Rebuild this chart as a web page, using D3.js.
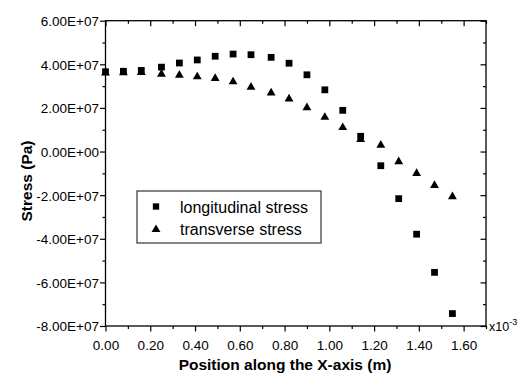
<!DOCTYPE html>
<html>
<head>
<meta charset="utf-8">
<script src="https://cdn.jsdelivr.net/npm/d3@7"></script>
<style>
  html, body { margin: 0; padding: 0; background: #fff; }
  svg { display: block; font-family: "Liberation Sans", Arial, sans-serif; }
</style>
</head>
<body>
<svg id="chart" width="525" height="374"></svg>
<script>
// ---- data (x in 1e-3 m, stress in Pa) ----
const positions = [0.00, 0.08, 0.16, 0.25, 0.33, 0.41, 0.49, 0.57, 0.65, 0.74,
                   0.82, 0.90, 0.98, 1.06, 1.14, 1.23, 1.31, 1.39, 1.47, 1.55];
const longitudinal = [3.66e7, 3.68e7, 3.72e7, 3.87e7, 4.06e7, 4.20e7, 4.37e7, 4.47e7, 4.44e7, 4.32e7,
                      4.05e7, 3.52e7, 2.83e7, 1.89e7, 0.70e7, -0.65e7, -2.16e7, -3.79e7, -5.54e7, -7.43e7];
const transverse = [3.60e7, 3.62e7, 3.63e7, 3.55e7, 3.50e7, 3.43e7, 3.35e7, 3.20e7, 2.95e7, 2.69e7,
                    2.41e7, 2.01e7, 1.57e7, 1.10e7, 0.55e7, 0.29e7, -0.46e7, -1.00e7, -1.55e7, -2.07e7];
const seriesNames = ["longitudinal stress", "transverse stress"];
const xTickValues = [0.0, 0.2, 0.4, 0.6, 0.8, 1.0, 1.2, 1.4, 1.6];
const xTickLabels = ["0.00", "0.20", "0.40", "0.60", "0.80", "1.00", "1.20", "1.40", "1.60"];
const xMinorTicks = [0.1, 0.3, 0.5, 0.7, 0.9, 1.1, 1.3, 1.5, 1.7];
const yTickValues = [6e7, 4e7, 2e7, 0, -2e7, -4e7, -6e7, -8e7];
const yTickLabels = ["6.00E+07", "4.00E+07", "2.00E+07", "0.00E+00", "-2.00E+07", "-4.00E+07", "-6.00E+07", "-8.00E+07"];
const yMinorTicks = [5e7, 3e7, 1e7, -1e7, -3e7, -5e7, -7e7];
const xTitle = "Position along the X-axis (m)";
const yTitle = "Stress (Pa)";

// ---- layout ----
const L = 105.5, R = 486, T = 20.7, B = 326;
const svg = d3.select("#chart");
const x = d3.scaleLinear().domain([0, 1.7]).range([L, R]);
const y = d3.scaleLinear().domain([-8e7, 6e7]).range([B, T]);

const xLab = d3.scaleOrdinal().domain(xTickValues).range(xTickLabels);
const yLab = d3.scaleOrdinal().domain(yTickValues).range(yTickLabels);

function styleAxis(g) {
  g.select(".domain").remove();
  g.selectAll("line").attr("stroke", "#000").attr("stroke-width", 1.2);
  g.selectAll("text").attr("fill", "#000");
}

// bottom major
svg.append("g").attr("transform", `translate(0,${B})`)
  .call(d3.axisBottom(x).tickValues(xTickValues).tickSize(5.5).tickPadding(9).tickFormat(d => xLab(d)))
  .call(styleAxis)
  .selectAll("text").attr("font-size", "13.5px").attr("font-family", "Liberation Sans, Arial, sans-serif");
// bottom minor
svg.append("g").attr("transform", `translate(0,${B})`)
  .call(d3.axisBottom(x).tickValues(xMinorTicks).tickSize(3).tickFormat(""))
  .call(styleAxis);
// top (inward)
svg.append("g").attr("transform", `translate(0,${T})`)
  .call(d3.axisBottom(x).tickValues(xTickValues).tickSize(5.5).tickFormat(""))
  .call(styleAxis);
svg.append("g").attr("transform", `translate(0,${T})`)
  .call(d3.axisBottom(x).tickValues(xMinorTicks).tickSize(3).tickFormat(""))
  .call(styleAxis);
// left major
svg.append("g").attr("transform", `translate(${L},0)`)
  .call(d3.axisLeft(y).tickValues(yTickValues).tickSize(5.5).tickPadding(1).tickFormat(d => yLab(d)))
  .call(styleAxis)
  .selectAll("text").attr("font-size", "13.5px").attr("font-family", "Liberation Sans, Arial, sans-serif")
  .attr("dy", "0.36em");
svg.append("g").attr("transform", `translate(${L},0)`)
  .call(d3.axisLeft(y).tickValues(yMinorTicks).tickSize(3).tickFormat(""))
  .call(styleAxis);
// right (inward)
svg.append("g").attr("transform", `translate(${R},0)`)
  .call(d3.axisLeft(y).tickValues(yTickValues).tickSize(5.5).tickFormat(""))
  .call(styleAxis);
svg.append("g").attr("transform", `translate(${R},0)`)
  .call(d3.axisLeft(y).tickValues(yMinorTicks).tickSize(3).tickFormat(""))
  .call(styleAxis);

// frame
svg.append("rect").attr("x", L).attr("y", T).attr("width", R - L).attr("height", B - T)
  .attr("fill", "none").attr("stroke", "#000").attr("stroke-width", 1.3);

// x10^-3
const ex = svg.append("text").attr("x", 489).attr("y", 331).attr("font-size", "12.5px").attr("fill", "#000");
ex.append("tspan").text("x10");
ex.append("tspan").attr("dy", -6).attr("font-size", "9px").text("-3");

// titles
svg.append("text").attr("x", 285).attr("y", 370).attr("text-anchor", "middle")
  .attr("font-size", "15.5px").attr("font-weight", "bold").attr("fill", "#000").text(xTitle);
svg.append("text").attr("transform", "translate(32,181) rotate(-90)").attr("text-anchor", "middle")
  .attr("font-size", "15.5px").attr("font-weight", "bold").attr("fill", "#000").text(yTitle);

// markers
const sq = d3.symbol().type(d3.symbolSquare).size(46);
const tri = d3.symbol().type(d3.symbolTriangle).size(34);

const plot = svg.append("g");
plot.selectAll("path.sq").data(positions.map((p, i) => [p, longitudinal[i]])).enter()
  .append("path").attr("class", "sq").attr("d", sq)
  .attr("transform", d => `translate(${x(d[0])},${y(d[1])})`).attr("fill", "#000");
plot.selectAll("path.tri").data(positions.map((p, i) => [p, transverse[i]])).enter()
  .append("path").attr("class", "tri").attr("d", tri)
  .attr("transform", d => `translate(${x(d[0])},${y(d[1])})`).attr("fill", "#000");

// legend
const lg = svg.append("g");
lg.append("rect").attr("x", 137).attr("y", 191).attr("width", 184).attr("height", 52)
  .attr("fill", "#fff").attr("stroke", "#444").attr("stroke-width", 1.3);
lg.append("path").attr("d", d3.symbol().type(d3.symbolSquare).size(40)).attr("transform", "translate(156,206.5)").attr("fill", "#000");
lg.append("path").attr("d", d3.symbol().type(d3.symbolTriangle).size(34)).attr("transform", "translate(156,229.5)").attr("fill", "#000");
lg.append("text").attr("x", 180).attr("y", 212.5).attr("font-size", "16px").attr("fill", "#000").text(seriesNames[0]);
lg.append("text").attr("x", 180).attr("y", 234.5).attr("font-size", "16px").attr("fill", "#000").text(seriesNames[1]);
</script>
</body>
</html>
